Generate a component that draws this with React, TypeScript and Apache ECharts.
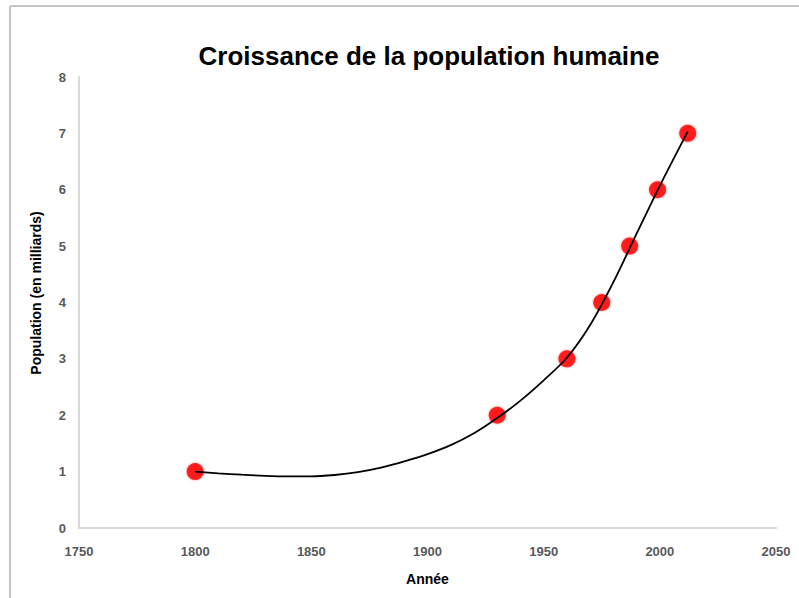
import React, { useEffect, useRef } from "react";
import * as echarts from "echarts";

const years = [1800, 1930, 1960, 1975, 1987, 1999, 2012];
const population = [1, 2, 3, 4, 5, 6, 7];

// trendline (year, billions)
const trendYears = [1800, 1810, 1820, 1830, 1840, 1850, 1860, 1870, 1880, 1890, 1900, 1910, 1920, 1930, 1940, 1950, 1960, 1970, 1980, 1990, 2000, 2012];
const trendValues = [1.0, 0.97, 0.945, 0.925, 0.915, 0.915, 0.94, 0.99, 1.07, 1.18, 1.31, 1.47, 1.68, 1.95, 2.26, 2.62, 3.02, 3.6, 4.36, 5.22, 6.07, 7.03];

const titleText = "Croissance de la population humaine";
const xAxisTitle = "Année";
const yAxisTitle = "Population (en milliards)";

export default function App() {
  const ref = useRef<HTMLDivElement>(null);
  useEffect(() => {
    if (!ref.current) return;
    const chart = echarts.init(ref.current, null, { renderer: "svg" });
    const font = "'Liberation Sans', Arial, Helvetica, sans-serif";
    chart.setOption({
      animation: false,
      backgroundColor: "#ffffff",
      textStyle: { fontFamily: font },
      title: {
        text: titleText,
        left: 424,
        textAlign: "center",
        top: 38,
        textStyle: { fontFamily: font, fontSize: 26, fontWeight: "bold", color: "#000000" },
      },
      graphic: [
        { type: "line", shape: { x1: 10, y1: 6, x2: 10, y2: 598 }, style: { stroke: "#c4c4c4", lineWidth: 2 } },
        { type: "line", shape: { x1: 10, y1: 6, x2: 799, y2: 6 }, style: { stroke: "#c4c4c4", lineWidth: 2 } },
        {
          type: "text",
          x: 36,
          y: 293,
          rotation: Math.PI / 2,
          style: {
            text: yAxisTitle,
            fontFamily: font,
            fontSize: 14,
            fontWeight: "bold",
            fill: "#000000",
            align: "center",
            verticalAlign: "middle",
          },
        },
      ],
      grid: { left: 79, right: 23, top: 77, bottom: 70 },
      xAxis: {
        type: "value",
        min: 1750,
        max: 2050,
        interval: 50,
        name: xAxisTitle,
        nameLocation: "middle",
        nameGap: 44,
        nameTextStyle: { fontFamily: font, fontSize: 14, fontWeight: "bold", color: "#000000" },
        axisLine: { show: true, lineStyle: { color: "#d9d9d9", width: 2 } },
        axisTick: { show: false },
        splitLine: { show: false },
        axisLabel: {
          formatter: (v: number) => String(v),
          margin: 17,
          fontFamily: font,
          fontSize: 13,
          fontWeight: "bold",
          color: "#595959",
        },
      },
      yAxis: {
        type: "value",
        min: 0,
        max: 8,
        interval: 1,
        axisLine: { show: true, lineStyle: { color: "#d9d9d9", width: 2 } },
        axisTick: { show: false },
        splitLine: { show: false },
        axisLabel: {
          margin: 13,
          fontFamily: font,
          fontSize: 13,
          fontWeight: "bold",
          color: "#595959",
        },
      },
      series: [
        {
          type: "scatter",
          data: years.map((y, i) => [y, population[i]]),
          symbol: "circle",
          symbolSize: 17,
          itemStyle: { color: "#ff0000", shadowBlur: 2, shadowColor: "rgba(255,0,0,0.6)" },
          z: 2,
        },
        {
          type: "line",
          data: trendYears.map((y, i) => [y, trendValues[i]]),
          smooth: 0.3,
          showSymbol: false,
          lineStyle: { color: "#000000", width: 1.8 },
          z: 3,
        },
      ],
    });
    return () => chart.dispose();
  }, []);
  return (
    <div
      ref={ref}
      style={{ position: "fixed", left: 0, top: 0, width: 799, height: 598 }}
    />
  );
}
